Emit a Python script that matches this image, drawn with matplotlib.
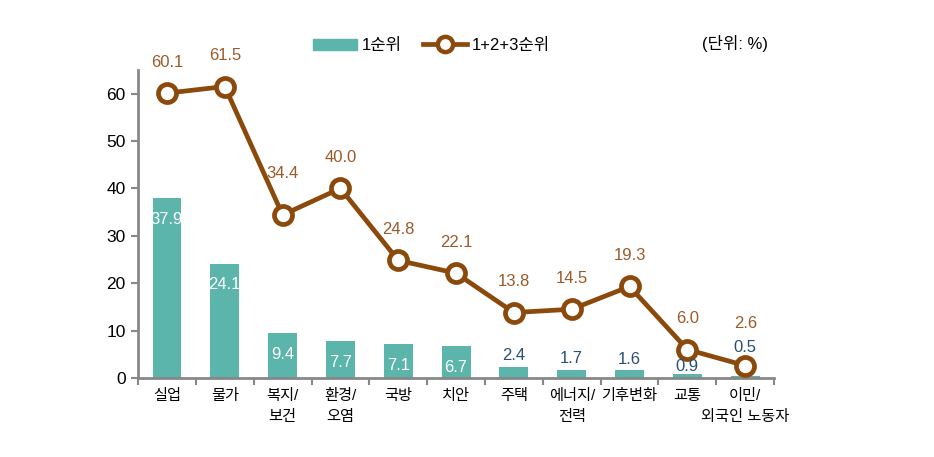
import numpy as np
import matplotlib.pyplot as plt
from matplotlib.lines import Line2D
from matplotlib.patches import Patch

plt.rcParams['font.family'] = ['Liberation Sans', 'Noto Sans CJK KR', 'DejaVu Sans']

# 데이터
categories = ['실업', '물가', '복지/\n보건', '환경/\n오염', '국방', '치안', '주택',
              '에너지/\n전력', '기후변화', '교통', '이민/\n외국인 노동자']
first_rank = [37.9, 24.1, 9.4, 7.7, 7.1, 6.7, 2.4, 1.7, 1.6, 0.9, 0.5]
top3_rank = [60.1, 61.5, 34.4, 40.0, 24.8, 22.1, 13.8, 14.5, 19.3, 6.0, 2.6]

bar_color = '#5BB5AA'
line_color = '#8B4A0C'
label_brown = '#9C5A2A'
label_blue = '#2B4F73'

fig = plt.figure(figsize=(9.34, 4.57), dpi=100)
ax = fig.add_axes([0.1478, 0.173, 0.681, 0.674])

x = np.arange(len(categories))
ax.bar(x, first_rank, width=0.5, color=bar_color, zorder=2)
ax.plot(x, top3_rank, color=line_color, lw=3.4, marker='o', ms=13,
        mfc='white', mec=line_color, mew=3.4, zorder=3)

# 막대 라벨
for i, v in enumerate(first_rank):
    if v > 5:
        ax.annotate(f'{v:.1f}', (i, v), xytext=(0, -15), textcoords='offset points',
                    ha='center', va='center', color='white', fontsize=12)
    else:
        dy = {9: 5, 10: 20}.get(i, 8)
        ax.annotate(f'{v:.1f}', (i, v), xytext=(0, dy), textcoords='offset points',
                    ha='center', va='center', color=label_blue, fontsize=12)

# 선 라벨
for i, v in enumerate(top3_rank):
    dy = 30 if i in (2, 10) else 22
    ax.annotate(f'{v:.1f}', (i, v), xytext=(0, dy), textcoords='offset points',
                ha='center', va='center', color=label_brown, fontsize=12)

ax.set_xlim(-0.5, len(categories) - 0.5)
ax.set_ylim(0, 65)
ax.set_yticks(range(0, 61, 10))
ax.set_xticks(x)
ax.set_xticklabels(categories, fontsize=11, linespacing=1.65)
ax.set_xticks(np.arange(-0.5, len(categories), 1), minor=True)
ax.tick_params(axis='x', which='major', length=0, pad=8)
ax.tick_params(axis='x', which='minor', length=5, color='#888888', width=1.5)
ax.tick_params(axis='y', labelsize=12.5, length=5, color='#888888', width=1.5, pad=4)

for s in ['top', 'right']:
    ax.spines[s].set_visible(False)
for s in ['left', 'bottom']:
    ax.spines[s].set_color('#888888')
    ax.spines[s].set_linewidth(2)

handles = [Patch(color=bar_color),
           Line2D([0], [0], color=line_color, lw=3.4, marker='o', ms=11,
                  mfc='white', mec=line_color, mew=3.2)]
fig.legend(handles, ['1순위', '1+2+3순위'], loc='center', bbox_to_anchor=(0.462, 0.9),
           ncol=2, frameon=False, fontsize=12, handlelength=2.6, columnspacing=1.3,
           handletextpad=0.3)
fig.text(0.787, 0.905, '(단위: %)', fontsize=12, ha='center', va='center')

fig.savefig('out.png', dpi=100)
